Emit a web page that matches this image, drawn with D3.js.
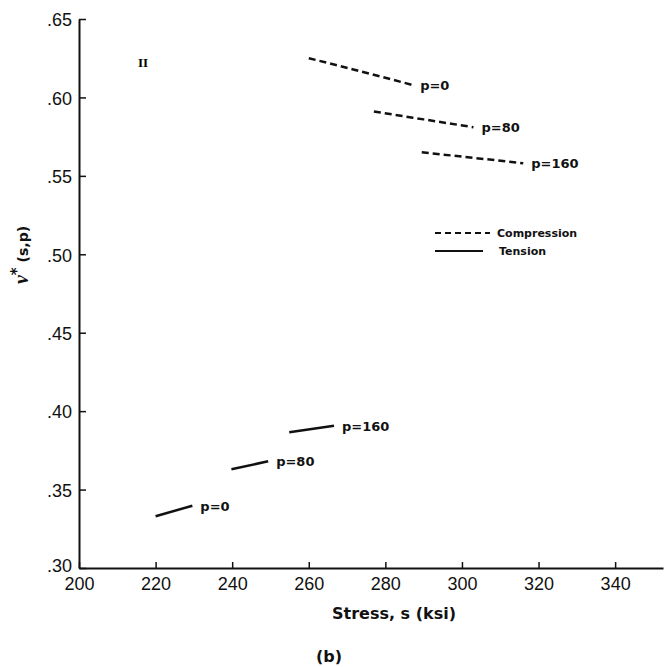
<!DOCTYPE html>
<html>
<head>
<meta charset="utf-8">
<script src="https://cdn.jsdelivr.net/npm/d3@7"></script>
<style>
  body { margin: 0; background: #fff; }
  svg { font-family: 'DejaVu Sans', sans-serif; }
  .tick text { fill: #111; }
  .plabel { font-size: 13px; font-weight: bold; fill: #111; }
  .legend { font-size: 11px; font-weight: bold; fill: #111; }
</style>
</head>
<body>
<div id="chart"></div>
<script>
// compression curves (dashed)
const compP0 = [[260, 0.625], [273, 0.617], [287, 0.608]]
const compP80 = [[277, 0.591], [290, 0.586], [303, 0.581]]
const compP160 = [[289.5, 0.565], [303, 0.5615], [316, 0.558]]
// tension curves (solid)
const tensP0 = [[220, 0.333], [229.6, 0.3397]]
const tensP80 = [[239.8, 0.363], [249.4, 0.368]]
const tensP160 = [[254.9, 0.3865], [266.6, 0.3907]]

const xTicks = [200, 220, 240, 260, 280, 300, 320, 340]
const yTicks = [0.30, 0.35, 0.40, 0.45, 0.50, 0.55, 0.60, 0.65]

const curves = [
  { data: compP0, dashed: true, label: 'p=0' },
  { data: compP80, dashed: true, label: 'p=80' },
  { data: compP160, dashed: true, label: 'p=160' },
  { data: tensP0, dashed: false, label: 'p=0' },
  { data: tensP80, dashed: false, label: 'p=80' },
  { data: tensP160, dashed: false, label: 'p=160' }
]

const width = 664
const height = 667
const margin = { left: 79, top: 19, right: 1, bottom: 99 }

const svg = d3.select('#chart')
  .append('svg')
  .attr('width', width)
  .attr('height', height)

const x = d3.scaleLinear()
  .domain([200, 352.5])
  .range([margin.left, width - margin.right])

const y = d3.scaleLinear()
  .domain([0.30, 0.65])
  .range([height - margin.bottom, margin.top])

const xAxis = svg.append('g')
  .attr('transform', `translate(0,${y(0.30)})`)
  .call(d3.axisBottom(x).tickValues(xTicks).tickSizeInner(-6).tickSizeOuter(0).tickPadding(13))
xAxis.select('.domain').attr('stroke', '#111').attr('stroke-width', 2)
xAxis.selectAll('.tick line').attr('stroke', '#111').attr('stroke-width', 1.5)
xAxis.selectAll('.tick text').attr('font-size', 18).attr('dy', '0.5em')

const yAxis = svg.append('g')
  .attr('transform', `translate(${x(200)},0)`)
  .call(d3.axisLeft(y).tickValues(yTicks).tickSizeInner(-7).tickSizeOuter(0).tickPadding(7)
    .tickFormat(d => d3.format('.2f')(d).replace(/^0/, '')))
yAxis.select('.domain').attr('stroke', '#111').attr('stroke-width', 2)
yAxis.selectAll('.tick line').attr('stroke', '#111').attr('stroke-width', 1.5)
yAxis.selectAll('.tick text').attr('font-size', 18).attr('dy', d => d === 0.30 ? '0.2em' : '0.38em')

const line = d3.line()
  .curve(d3.curveMonotoneX)
  .x(d => x(d[0]))
  .y(d => y(d[1]))

curves.forEach(c => {
  svg.append('path')
    .datum(c.data)
    .attr('d', line)
    .attr('fill', 'none')
    .attr('stroke', '#111')
    .attr('stroke-width', 2.5)
    .attr('stroke-dasharray', c.dashed ? '7,4' : null)

  const last = c.data[c.data.length - 1]
  svg.append('text')
    .attr('class', 'plabel')
    .attr('x', x(last[0]) + 8)
    .attr('y', y(last[1]) + 5)
    .text(c.label)
})

// legend
const legend = svg.append('g').attr('transform', 'translate(435,233)')
legend.append('line')
  .attr('x1', 0).attr('x2', 55).attr('y1', 0).attr('y2', 0)
  .attr('stroke', '#111').attr('stroke-width', 2).attr('stroke-dasharray', '6,4')
legend.append('text').attr('class', 'legend').attr('x', 62).attr('y', 4).text('Compression')
legend.append('line')
  .attr('x1', 0).attr('x2', 48).attr('y1', 18).attr('y2', 18)
  .attr('stroke', '#111').attr('stroke-width', 2)
legend.append('text').attr('class', 'legend').attr('x', 64).attr('y', 22).text('Tension')

svg.append('text')
  .attr('x', 143).attr('y', 67)
  .attr('text-anchor', 'middle')
  .attr('font-family', 'Liberation Serif, serif')
  .attr('font-weight', 'bold')
  .attr('font-size', 13)
  .text('II')

svg.append('text')
  .attr('transform', 'translate(28,255) rotate(-90)')
  .attr('text-anchor', 'middle')
  .attr('font-size', 15)
  .attr('font-weight', 'bold')
  .attr('fill', '#111')
  .html('<tspan font-family="Liberation Serif, serif" font-style="italic" font-size="20">ν</tspan><tspan dy="-6">*</tspan><tspan dy="6" font-size="14"> (s,p)</tspan>')

svg.append('text')
  .attr('x', 394).attr('y', 619)
  .attr('text-anchor', 'middle')
  .attr('font-size', 16)
  .attr('font-weight', 'bold')
  .attr('fill', '#111')
  .text('Stress, s (ksi)')

svg.append('text')
  .attr('x', 329).attr('y', 662)
  .attr('text-anchor', 'middle')
  .attr('font-size', 16)
  .attr('font-weight', 'bold')
  .attr('fill', '#111')
  .text('(b)')
</script>
</body>
</html>
